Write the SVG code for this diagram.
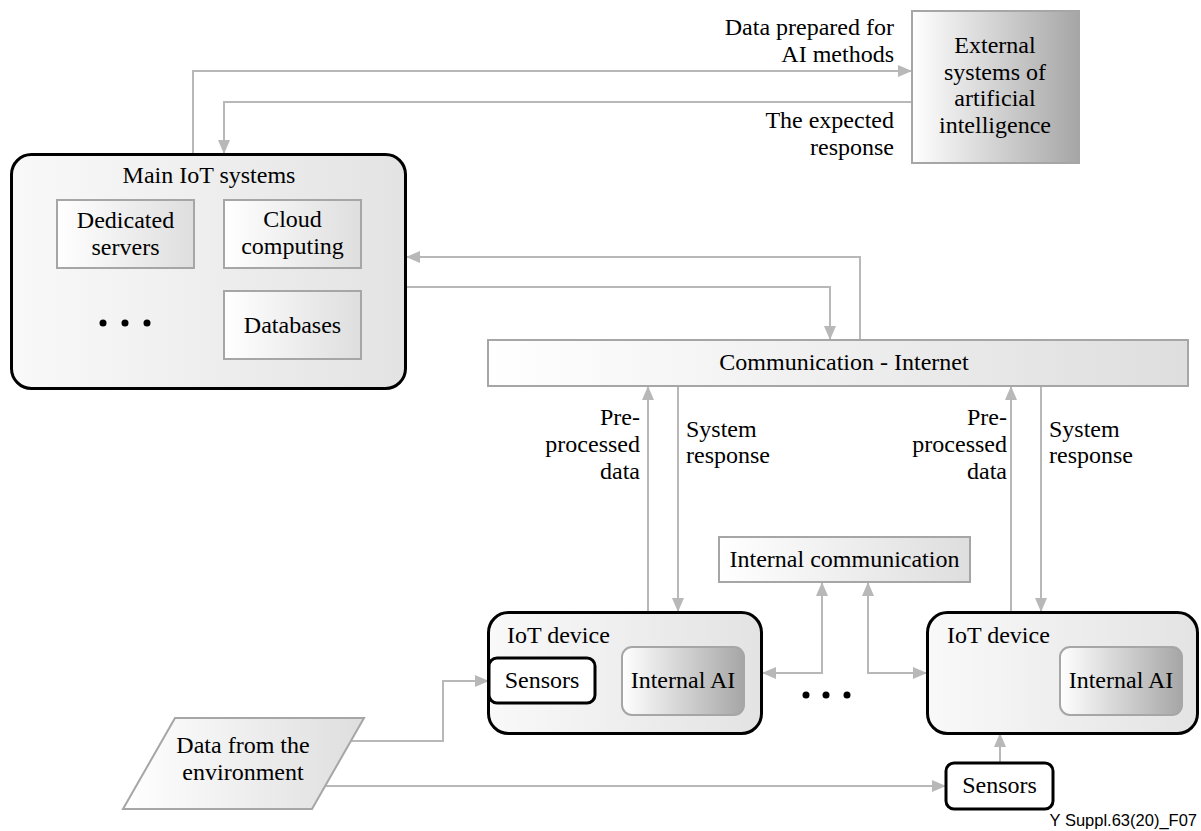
<svg xmlns="http://www.w3.org/2000/svg" width="1201" height="831" viewBox="0 0 1201 831">
  <defs>
    <linearGradient id="gSoft" x1="0" y1="0" x2="1" y2="0">
      <stop offset="0" stop-color="#f9f9f9"/>
      <stop offset="1" stop-color="#e3e3e3"/>
    </linearGradient>
    <linearGradient id="gBox" x1="0" y1="0" x2="1" y2="0">
      <stop offset="0" stop-color="#ffffff"/>
      <stop offset="1" stop-color="#dedede"/>
    </linearGradient>
    <linearGradient id="gDark" x1="0" y1="0" x2="1" y2="0">
      <stop offset="0" stop-color="#ffffff"/>
      <stop offset="1" stop-color="#a6a6a6"/>
    </linearGradient>
    <marker id="arrow" viewBox="0 0 14 12" refX="14" refY="6" markerWidth="14" markerHeight="12" markerUnits="userSpaceOnUse" orient="auto-start-reverse">
      <path d="M0,0 L14,6 L0,12 z" fill="#b8b8b8"/>
    </marker>
    <style>
      text { font-family: "Liberation Serif", "Times New Roman", serif; font-size: 24px; fill: #000; }
      .c { text-anchor: middle; }
      .r { text-anchor: end; }
      .container { fill: url(#gSoft); stroke: #000; stroke-width: 3; }
      .inner { fill: url(#gBox); stroke: #a6a6a6; stroke-width: 2; }
      .ai { fill: url(#gDark); stroke: #a6a6a6; stroke-width: 2; }
      .sensor { fill: #fff; stroke: #000; stroke-width: 3; }
      .link { fill: none; stroke: #b8b8b8; stroke-width: 2; }
      .dot { fill: #000; }
      .tag { font-family: "Liberation Sans", Arial, sans-serif; font-size: 16.5px; }
    </style>
  </defs>

  <!-- connectors -->
  <g id="connectors">
    <path class="link" d="M193,154 V71 H912" marker-end="url(#arrow)"/>
    <path class="link" d="M912,102 H224 V154" marker-end="url(#arrow)"/>
    <path class="link" d="M860,340 V257 H406" marker-end="url(#arrow)"/>
    <path class="link" d="M406,287 H830 V340" marker-end="url(#arrow)"/>
    <path class="link" d="M648,612 V386" marker-end="url(#arrow)"/>
    <path class="link" d="M678,386 V612" marker-end="url(#arrow)"/>
    <path class="link" d="M1011,612 V386" marker-end="url(#arrow)"/>
    <path class="link" d="M1041,386 V612" marker-end="url(#arrow)"/>
    <path class="link" d="M762,673 H822 V582" marker-start="url(#arrow)" marker-end="url(#arrow)"/>
    <path class="link" d="M868,582 V673 H927" marker-start="url(#arrow)" marker-end="url(#arrow)"/>
    <path class="link" d="M351,741 H443 V681 H489" marker-end="url(#arrow)"/>
    <path class="link" d="M325,786 H946" marker-end="url(#arrow)"/>
    <path class="link" d="M1000,763 V733" marker-end="url(#arrow)"/>
  </g>

  <!-- connector labels -->
  <g id="labels">
    <text class="r" x="894" y="35">Data prepared for</text>
    <text class="r" x="894" y="62">AI methods</text>
    <text class="r" x="894" y="128">The expected</text>
    <text class="r" x="894" y="155">response</text>
    <text class="r" x="640" y="425">Pre-</text>
    <text class="r" x="640" y="452">processed</text>
    <text class="r" x="640" y="479">data</text>
    <text x="686" y="437">System</text>
    <text x="686" y="463">response</text>
    <text class="r" x="1007" y="425">Pre-</text>
    <text class="r" x="1007" y="452">processed</text>
    <text class="r" x="1007" y="479">data</text>
    <text x="1049" y="437">System</text>
    <text x="1049" y="463">response</text>
  </g>

  <!-- main IoT systems -->
  <g id="main-iot">
    <rect class="container" x="11.5" y="154.5" width="394" height="234" rx="20"/>
    <text class="c" x="209" y="183">Main IoT systems</text>
    <g id="dedicated-servers">
      <rect class="inner" x="57" y="200" width="137" height="68"/>
      <text class="c" x="125.5" y="228">Dedicated</text>
      <text class="c" x="125.5" y="255">servers</text>
    </g>
    <g id="cloud-computing">
      <rect class="inner" x="224" y="200" width="137" height="68"/>
      <text class="c" x="292.5" y="227">Cloud</text>
      <text class="c" x="292.5" y="254">computing</text>
    </g>
    <g id="databases">
      <rect class="inner" x="224" y="291" width="137" height="68"/>
      <text class="c" x="292.5" y="333">Databases</text>
    </g>
    <g id="main-more">
      <circle class="dot" cx="103" cy="323" r="3.5"/>
      <circle class="dot" cx="125" cy="323" r="3.5"/>
      <circle class="dot" cx="147" cy="323" r="3.5"/>
    </g>
  </g>

  <!-- external AI systems -->
  <g id="external-ai">
    <rect class="ai" x="912" y="11" width="167" height="152"/>
    <text class="c" x="995" y="53">External</text>
    <text class="c" x="995" y="79.5">systems of</text>
    <text class="c" x="995" y="106">artificial</text>
    <text class="c" x="995" y="132.5">intelligence</text>
  </g>

  <!-- internet -->
  <g id="internet">
    <rect class="inner" x="488" y="340" width="700" height="46"/>
    <text class="c" x="844" y="370">Communication - Internet</text>
  </g>

  <!-- internal communication -->
  <g id="internal-communication">
    <rect class="inner" x="719" y="537" width="251" height="45"/>
    <text class="c" x="844.5" y="567">Internal communication</text>
  </g>

  <!-- IoT device with on-board sensors -->
  <g id="iot-device-1">
    <rect class="container" x="488.5" y="612.5" width="273" height="121" rx="20"/>
    <text x="507" y="643">IoT device</text>
    <rect class="ai" x="622" y="647" width="122" height="68" rx="10"/>
    <text class="c" x="683" y="688">Internal AI</text>
  </g>
  <g id="sensors-1">
    <rect class="sensor" x="489" y="658" width="106" height="45" rx="8"/>
    <text class="c" x="542" y="688">Sensors</text>
  </g>

  <g id="devices-more">
    <circle class="dot" cx="806" cy="695" r="3.5"/>
    <circle class="dot" cx="826" cy="695" r="3.5"/>
    <circle class="dot" cx="847" cy="695" r="3.5"/>
  </g>

  <!-- IoT device with external sensors -->
  <g id="iot-device-2">
    <rect class="container" x="927.5" y="612.5" width="270" height="121" rx="20"/>
    <text x="947" y="643">IoT device</text>
    <rect class="ai" x="1060" y="647" width="122" height="68" rx="10"/>
    <text class="c" x="1121" y="688">Internal AI</text>
  </g>
  <g id="sensors-2">
    <rect class="sensor" x="946" y="763" width="107" height="46" rx="8"/>
    <text class="c" x="999.5" y="793">Sensors</text>
  </g>

  <!-- environment input -->
  <g id="environment">
    <polygon class="inner" points="175,718 364,718 312,809 123,809"/>
    <text class="c" x="243" y="753">Data from the</text>
    <text class="c" x="243" y="780">environment</text>
  </g>

  <text class="tag" x="1197" y="826" text-anchor="end">Y Suppl.63(20)_F07</text>
</svg>
